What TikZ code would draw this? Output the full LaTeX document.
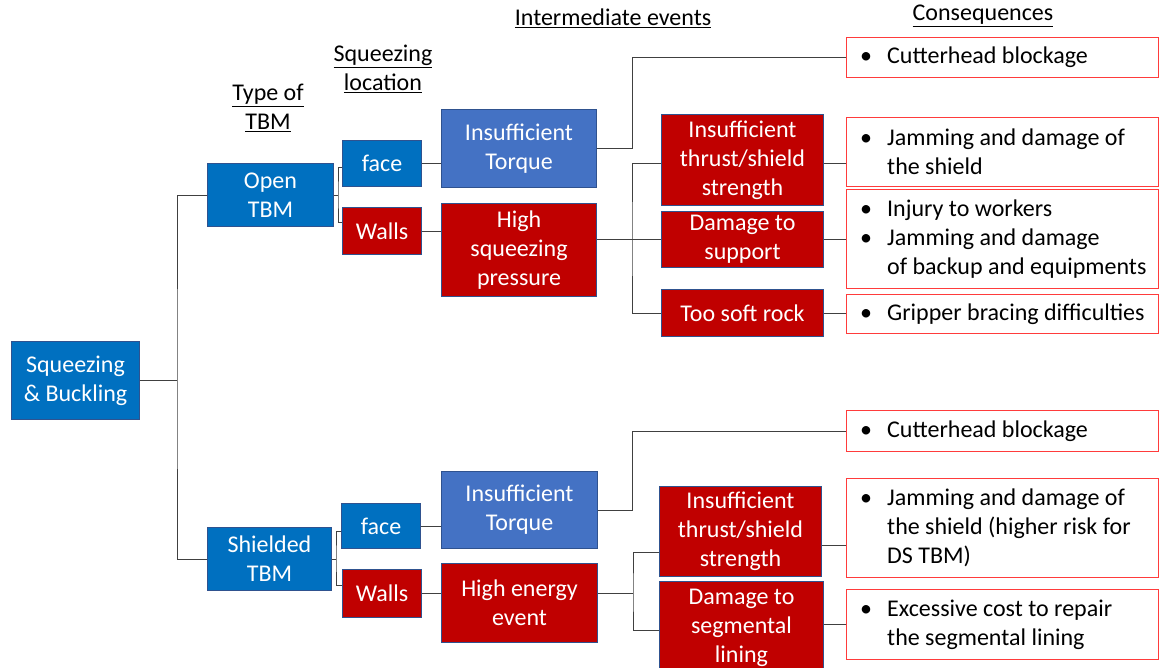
\documentclass[tikz,border=0pt]{standalone}
\usepackage{fontspec}
\setmainfont{Carlito}
\usetikzlibrary{calc}
\definecolor{bblue}{HTML}{0070C0}
\definecolor{lblue}{HTML}{4472C4}
\definecolor{dred}{HTML}{C00000}
\definecolor{edgeblue}{HTML}{2F528F}
\definecolor{consred}{HTML}{FF3B3B}
\definecolor{wire}{HTML}{404040}
\newcommand\consbullet{\makebox[27pt][l]{\textbullet}}
\newcommand\consindent{\hspace*{27pt}}
\begin{document}
\begin{tikzpicture}[x=1pt,y=-1pt,
  every node/.style={font=\fontsize{24}{29}\selectfont, inner sep=0pt},
  box/.style={draw=edgeblue, line width=1pt, text=white, align=center, anchor=north west},
  bluebox/.style={box, fill=bblue},
  lightbox/.style={box, fill=lblue},
  redbox/.style={box, fill=dred},
  consbox/.style={draw=consred, line width=1pt, fill=white, anchor=north west, minimum width=312},
  constext/.style={anchor=west, align=left, text=black},
  hdr/.style={align=center, text=black},
  link/.style={draw=wire, line width=0.9pt}]
\useasboundingbox (0,0) rectangle (1159,668);

% column headers
\node[hdr] (hType) at (268,108) {\underline{Type of}\\\underline{TBM}};
\node[hdr] (hLoc) at (383,69) {\underline{Squeezing}\\\underline{location}};
\node[hdr] (hInt) at (613,18) {\underline{Intermediate events}};
\node[hdr] (hCons) at (983,16) {\underline{Consequences}};

% root and TBM types
\node[bluebox, minimum width=128, minimum height=78] (sb) at (11,341) {Squeezing\\\& Buckling};
\node[bluebox, minimum width=126, minimum height=63] (open) at (207,163) {Open\\TBM};
\node[bluebox, minimum width=124, minimum height=63] (shield) at (207,527) {Shielded\\TBM};

% squeezing locations
\node[bluebox, minimum width=79, minimum height=46] (face1) at (342,140) {face};
\node[redbox, minimum width=79, minimum height=47] (walls1) at (342,207) {Walls};
\node[bluebox, minimum width=79, minimum height=45] (face2) at (341,503) {face};
\node[redbox, minimum width=79, minimum height=48] (walls2) at (342,569) {Walls};

% intermediate events, first level
\node[lightbox, minimum width=155, minimum height=78] (it1) at (441,109) {Insufficient\\Torque};
\node[redbox, minimum width=155, minimum height=93] (hsp) at (441,203) {High\\squeezing\\pressure};
\node[lightbox, minimum width=156, minimum height=77] (it2) at (441,471) {Insufficient\\Torque};
\node[redbox, minimum width=156, minimum height=79] (hee) at (441,563) {High energy\\event};

% intermediate events, second level
\node[redbox, minimum width=162, minimum height=91] (itss1) at (661,114) {Insufficient\\thrust/shield\\strength};
\node[redbox, minimum width=162, minimum height=56] (ds) at (661,211) {Damage to\\support};
\node[redbox, minimum width=162, minimum height=47] (tsr) at (661,289) {Too soft rock};
\node[redbox, minimum width=162, minimum height=90] (itss2) at (659,486) {Insufficient\\thrust/shield\\strength};
\node[redbox, minimum width=164, minimum height=92] (dsl) at (659,581) {Damage to\\segmental\\lining};

% consequences
\node[consbox, minimum height=40] (c1) at (846,37) {};
\node[consbox, minimum height=69] (c2) at (846,117) {};
\node[consbox, minimum height=99] (c3) at (846,189) {};
\node[consbox, minimum height=39] (c4) at (846,294) {};
\node[consbox, minimum height=41] (c5) at (846,410) {};
\node[consbox, minimum height=99] (c6) at (846,478) {};
\node[consbox, minimum height=70] (c7) at (846,589) {};

\node[constext] (t1) at ([xshift=14]c1.west) {\consbullet Cutterhead blockage};
\node[constext] (t2) at ([xshift=14]c2.west) {\consbullet Jamming and damage of\\\consindent the shield};
\node[constext] (t3) at ([xshift=14]c3.west) {\consbullet Injury to workers\\\consbullet Jamming and damage\\\consindent of backup and equipments};
\node[constext] (t4) at ([xshift=14]c4.west) {\consbullet Gripper bracing difficulties};
\node[constext] (t5) at ([xshift=14]c5.west) {\consbullet Cutterhead blockage};
\node[constext] (t6) at ([xshift=14]c6.west) {\consbullet Jamming and damage of\\\consindent the shield (higher risk for\\\consindent DS TBM)};
\node[constext] (t7) at ([xshift=14]c7.west) {\consbullet Excessive cost to repair\\\consindent the segmental lining};

% root to TBM types
\draw[link] (sb.east) -- ++(37,0) coordinate (j0);
\draw[link] (open.west) -| (j0) |- (shield.west);

% open TBM branch
\draw[link] (open.east) -- ++(4,0) coordinate (j1);
\draw[link] ([yshift=-4]face1.west) -| (j1) |- ([yshift=9]walls1.west);
\draw[link] (face1.east) -- (face1.east -| it1.west);
\draw[link] (walls1.east) -- (walls1.east -| hsp.west);
\draw[link] (it1.east) -- ++(35,0) |- (c1.west);
\coordinate (h0) at (hsp.east |- ds.west);
\coordinate (j3) at ($(h0)+(35,0)$);
\draw[link] (h0) -- (ds.west);
\coordinate (s1) at ([yshift=-3.5]itss1.west);
\draw[link] (s1) -| (j3) |- (tsr.west);
\coordinate (s2) at ([yshift=-3.5]itss1.east);
\draw[link] (s2) -- (s2 -| c2.west);
\draw[link] (ds.east) -- (ds.east -| c3.west);
\draw[link] (tsr.east) -- (tsr.east -| c4.west);

% shielded TBM branch
\draw[link] (shield.east) -- ++(4,0) coordinate (j4);
\draw[link] ([yshift=-5.5]face2.west) -| (j4) |- ([yshift=8]walls2.west);
\draw[link] (face2.east) -- (face2.east -| it2.west);
\draw[link] (walls2.east) -- (walls2.east -| hee.west);
\draw[link] (it2.east) -- ++(34,0) |- (c5.west);
\coordinate (h1) at (hee.east |- walls2.east);
\coordinate (j5) at ($(h1)+(35,0)$);
\draw[link] (h1) -- (j5);
\coordinate (s3) at ([yshift=-21]itss2.west);
\coordinate (s4) at ([yshift=-3]dsl.west);
\draw[link] (s3) -| (j5) |- (s4);
\coordinate (s5) at ([yshift=-14]itss2.east);
\draw[link] (s5) -- (s5 -| c6.west);
\draw[link] (dsl.east |- c7.west) -- (c7.west);
\end{tikzpicture}
\end{document}
